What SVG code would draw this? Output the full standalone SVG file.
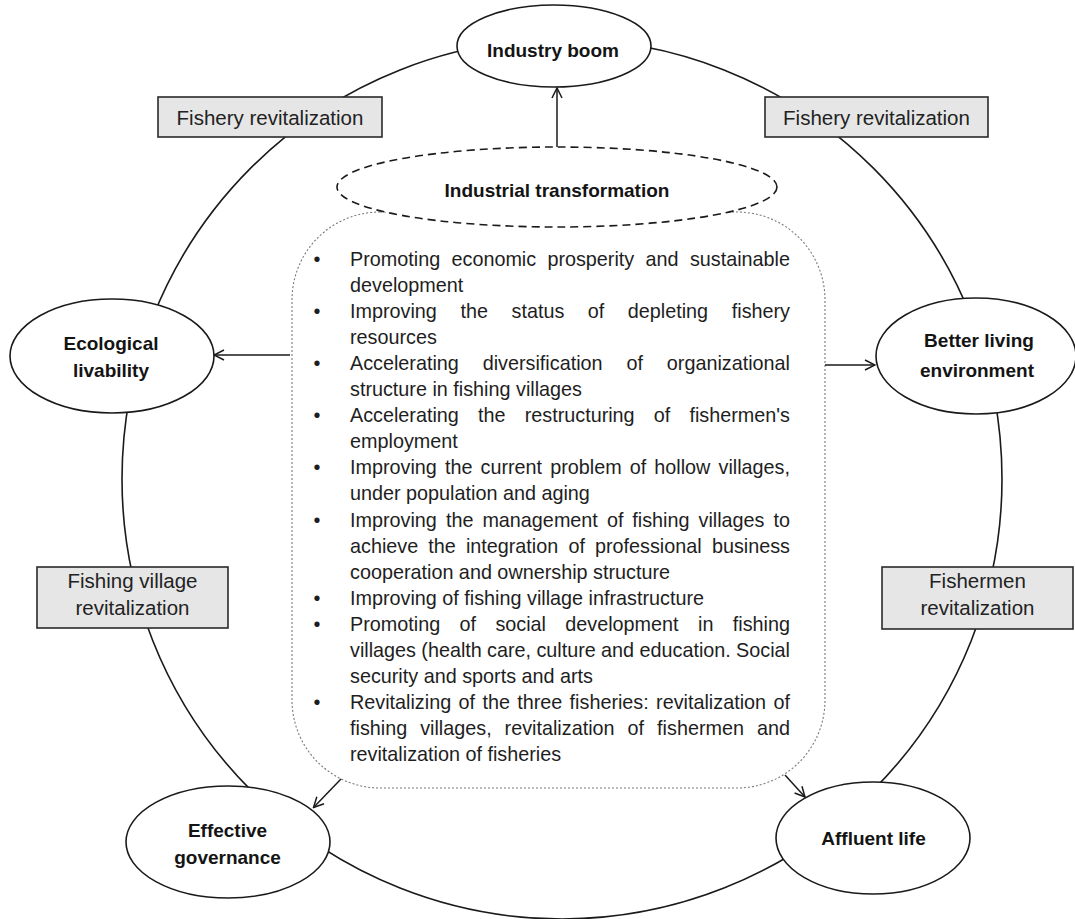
<svg xmlns="http://www.w3.org/2000/svg" width="1075" height="919" viewBox="0 0 1075 919">
  <style>
    .ring { fill: none; stroke: #1a1a1a; stroke-width: 1.6; }
    .node { fill: #ffffff; stroke: #1a1a1a; stroke-width: 1.6; }
    .node-text { font-family: "Liberation Sans", Arial, sans-serif; font-weight: bold; font-size: 19px; fill: #141414; text-anchor: middle; }
    .tag { fill: #e6e6e6; stroke: #2a2a2a; stroke-width: 1.6; }
    .tag-text { font-family: "Liberation Sans", Arial, sans-serif; font-size: 20.5px; fill: #222222; text-anchor: middle; }
    .core { fill: #ffffff; stroke: #1a1a1a; stroke-width: 1.6; stroke-dasharray: 8 5; }
    .panel { fill: #ffffff; stroke: #7a7a7a; stroke-width: 1.1; stroke-dasharray: 2 2; }
    .body { font-family: "Liberation Sans", Arial, sans-serif; font-size: 19.8px; fill: #1e1e1e; }
    .bullet { text-anchor: middle; }
    .link { fill: none; stroke: #1a1a1a; stroke-width: 1.5; marker-end: url(#open); }
  </style>
  <defs>
    <marker id="open" viewBox="0 0 12 12" refX="11" refY="6" markerWidth="12" markerHeight="12" orient="auto" markerUnits="userSpaceOnUse">
      <path d="M1,1 L11,6 L1,11" fill="none" stroke="#1a1a1a" stroke-width="1.5"/>
    </marker>
  </defs>

  <rect width="1075" height="919" fill="#ffffff"/>

  <!-- outer cycle linking the five goals -->
  <g id="cycle">
    <circle class="ring" cx="562" cy="479" r="440"/>
  </g>

  <!-- revitalization tags sitting on the cycle -->
  <g id="tag-fishery-left">
    <rect class="tag" x="158" y="97" width="224" height="40"/>
    <text class="tag-text" x="270" y="124.5">Fishery revitalization</text>
  </g>
  <g id="tag-fishery-right">
    <rect class="tag" x="765" y="97" width="223" height="40"/>
    <text class="tag-text" x="876.5" y="124.5">Fishery revitalization</text>
  </g>
  <g id="tag-village">
    <rect class="tag" x="37" y="567" width="191" height="61"/>
    <text class="tag-text" x="132.5" y="588">Fishing village</text>
    <text class="tag-text" x="132.5" y="615">revitalization</text>
  </g>
  <g id="tag-fishermen">
    <rect class="tag" x="882" y="567" width="191" height="62"/>
    <text class="tag-text" x="977.5" y="588">Fishermen</text>
    <text class="tag-text" x="977.5" y="615">revitalization</text>
  </g>

  <!-- goal nodes -->
  <g id="industry-boom">
    <ellipse class="node" cx="554" cy="46" rx="97" ry="41"/>
    <text class="node-text" x="553" y="56.5">Industry boom</text>
  </g>
  <g id="ecological-livability">
    <ellipse class="node" cx="112" cy="356" rx="102" ry="57"/>
    <text class="node-text" x="111" y="350">Ecological</text>
    <text class="node-text" x="111" y="376.5">livability</text>
  </g>
  <g id="better-living">
    <ellipse class="node" cx="976" cy="356" rx="100" ry="58"/>
    <text class="node-text" x="979" y="346.5">Better living</text>
    <text class="node-text" x="977" y="376.5">environment</text>
  </g>
  <g id="effective-governance">
    <ellipse class="node" cx="228" cy="842" rx="102" ry="56"/>
    <text class="node-text" x="227.5" y="837">Effective</text>
    <text class="node-text" x="227.5" y="864">governance</text>
  </g>
  <g id="affluent-life">
    <ellipse class="node" cx="873" cy="838" rx="97" ry="56"/>
    <text class="node-text" x="873.5" y="845">Affluent life</text>
  </g>

  <!-- measures panel -->
  <g id="measures">
    <rect class="panel" x="292" y="212" width="533" height="576" rx="88" ry="88"/>
    <g class="body">
      <text class="bullet" x="317" y="266">•</text>
      <text class="bullet" x="317" y="318.1">•</text>
      <text class="bullet" x="317" y="370.2">•</text>
      <text class="bullet" x="317" y="422.3">•</text>
      <text class="bullet" x="317" y="474.4">•</text>
      <text class="bullet" x="317" y="526.5">•</text>
      <text class="bullet" x="317" y="604.65">•</text>
      <text class="bullet" x="317" y="630.7">•</text>
      <text class="bullet" x="317" y="708.85">•</text>

      <text y="266"><tspan x="350">Promoting</tspan><tspan x="451.5">economic</tspan><tspan x="547.4">prosperity</tspan><tspan x="645.6">and</tspan><tspan x="790" text-anchor="end">sustainable</tspan></text>
      <text x="350" y="292.05">development</text>

      <text y="318.1"><tspan x="350">Improving</tspan><tspan x="460.4">the</tspan><tspan x="511.5">status</tspan><tspan x="587.8">of</tspan><tspan x="627.8">depleting</tspan><tspan x="790" text-anchor="end">fishery</tspan></text>
      <text x="350" y="344.15">resources</text>

      <text y="370.2"><tspan x="350">Accelerating</tspan><tspan x="482.7">diversification</tspan><tspan x="626.5">of</tspan><tspan x="790" text-anchor="end">organizational</tspan></text>
      <text x="350" y="396.25">structure in fishing villages</text>

      <text y="422.3"><tspan x="350">Accelerating</tspan><tspan x="478">the</tspan><tspan x="524.7">restructuring</tspan><tspan x="653.8">of</tspan><tspan x="790" text-anchor="end">fishermen's</tspan></text>
      <text x="350" y="448.35">employment</text>

      <text y="474.4"><tspan x="350">Improving</tspan><tspan x="445">the</tspan><tspan x="480.5">current</tspan><tspan x="550.2">problem</tspan><tspan x="629.8">of</tspan><tspan x="654.3">hollow</tspan><tspan x="790" text-anchor="end">villages,</tspan></text>
      <text x="350" y="500.45">under population and aging</text>

      <text y="526.5"><tspan x="350">Improving</tspan><tspan x="445.9">the</tspan><tspan x="482.4">management</tspan><tspan x="606.9">of</tspan><tspan x="632.3">fishing</tspan><tspan x="698.5">villages</tspan><tspan x="790" text-anchor="end">to</tspan></text>
      <text y="552.55"><tspan x="350">achieve</tspan><tspan x="428.3">the</tspan><tspan x="465.9">integration</tspan><tspan x="568.4">of</tspan><tspan x="595">professional</tspan><tspan x="790" text-anchor="end">business</tspan></text>
      <text x="350" y="578.6">cooperation and ownership structure</text>

      <text x="350" y="604.65">Improving of fishing village infrastructure</text>

      <text y="630.7"><tspan x="350">Promoting</tspan><tspan x="459.6">of</tspan><tspan x="495.4">social</tspan><tspan x="565.3">development</tspan><tspan x="698">in</tspan><tspan x="790" text-anchor="end">fishing</tspan></text>
      <text y="656.75"><tspan x="350">villages</tspan><tspan x="421.3">(health</tspan><tspan x="487.1">care,</tspan><tspan x="536.4">culture</tspan><tspan x="601.1">and</tspan><tspan x="639.5">education.</tspan><tspan x="790" text-anchor="end">Social</tspan></text>
      <text x="350" y="682.8">security and sports and arts</text>

      <text y="708.85"><tspan x="350">Revitalizing</tspan><tspan x="458.5">of</tspan><tspan x="482.4">the</tspan><tspan x="517.2">three</tspan><tspan x="569.6">fisheries:</tspan><tspan x="656.1">revitalization</tspan><tspan x="790" text-anchor="end">of</tspan></text>
      <text y="734.9"><tspan x="350">fishing</tspan><tspan x="420.2">villages,</tspan><tspan x="504.6">revitalization</tspan><tspan x="627.6">of</tspan><tspan x="657.1">fishermen</tspan><tspan x="790" text-anchor="end">and</tspan></text>
      <text x="350" y="760.95">revitalization of fisheries</text>
    </g>
  </g>

  <!-- core driver -->
  <g id="industrial-transformation">
    <ellipse class="core" cx="557" cy="187" rx="220" ry="40"/>
    <text class="node-text" x="557" y="196.5">Industrial transformation</text>
  </g>

  <!-- connectors from the core towards the goals -->
  <g id="connectors">
    <line class="link" x1="557" y1="147" x2="557" y2="88"/>
    <line class="link" x1="290" y1="355" x2="214" y2="355"/>
    <line class="link" x1="825" y1="365" x2="875" y2="365"/>
    <line class="link" x1="341" y1="779" x2="313.5" y2="807.5"/>
    <line class="link" x1="785" y1="775" x2="805" y2="797"/>
  </g>
</svg>
